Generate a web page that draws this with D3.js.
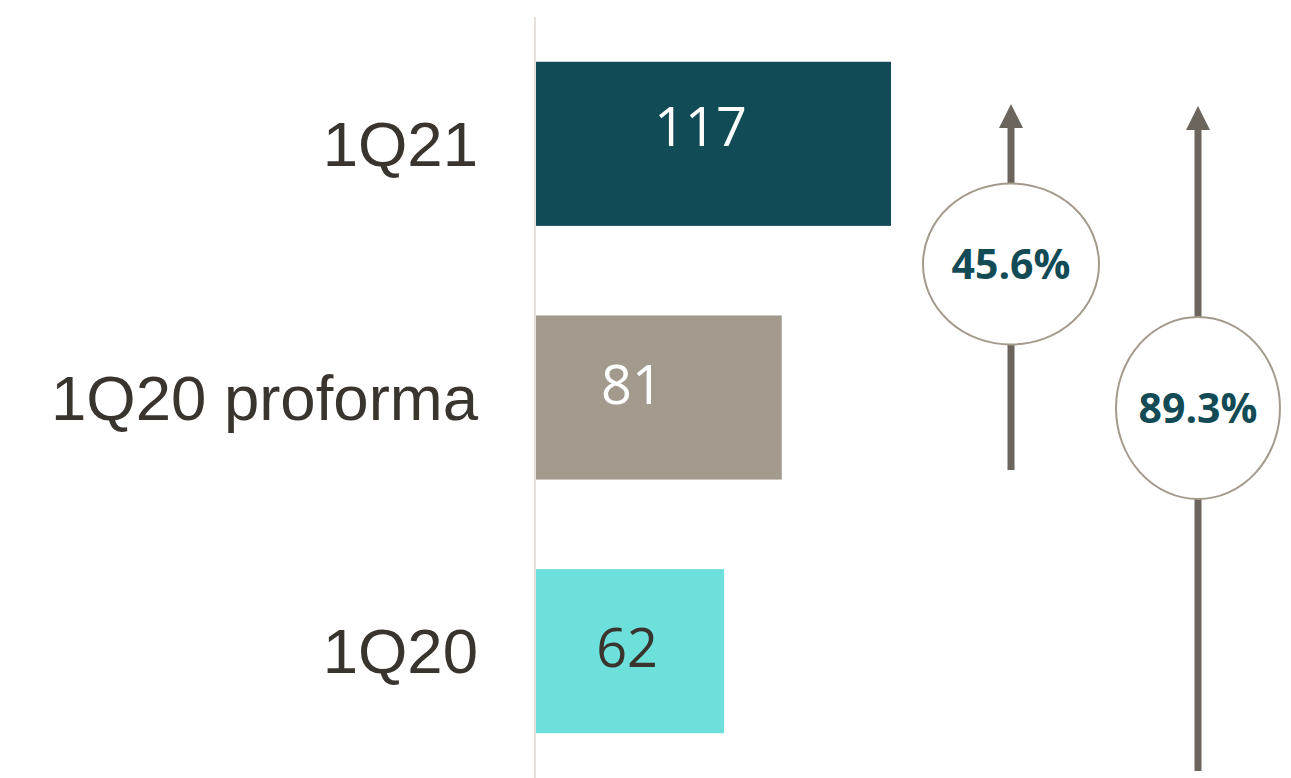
<!DOCTYPE html>
<html>
<head>
<meta charset="utf-8">
<script src="https://cdn.jsdelivr.net/npm/d3@7"></script>
<style>
  body { margin: 0; background: #fff; }
  svg { display: block; }
</style>
</head>
<body>
<div id="chart"></div>
<script>
// chart values
const categories = ["1Q21", "1Q20 proforma", "1Q20"];
const values = [117, 81, 62];
const barColors = ["#114b55", "#a39a8e", "#6ee0dc"];
const labelColors = ["#ffffff", "#ffffff", "#3a342e"];
const growthLabels = ["45.6%", "89.3%"];
const growthFrom = ["1Q20 proforma", "1Q20"];

let width = 1291;
let height = 778;

let svg = d3.select("#chart").append("svg")
  .attr("width", width)
  .attr("height", height);

let x = d3.scaleLinear()
  .domain([0, 117])
  .range([536, 891]);

let y = d3.scaleBand()
  .domain(categories)
  .range([17, 778])
  .paddingInner(0.353)
  .paddingOuter(0.1765);

// small nudges so the value labels sit where the original put them
let labelDx = [-13, -27, -3];
let labelDy = [2, 6, 16];

// baseline line
svg.append("line")
  .attr("x1", x(0) - 1).attr("x2", x(0) - 1)
  .attr("y1", 17).attr("y2", height)
  .attr("stroke", "#e4e1dd")
  .attr("stroke-width", 2);

let rows = categories.map((c, i) => ({ cat: c, value: values[i], i: i }));

svg.selectAll("rect.bar")
  .data(rows)
  .enter()
  .append("rect")
  .classed("bar", true)
  .attr("x", x(0))
  .attr("y", d => y(d.cat))
  .attr("width", d => x(d.value) - x(0))
  .attr("height", y.bandwidth())
  .attr("fill", d => barColors[d.i]);

svg.selectAll("text.cat-label")
  .data(rows)
  .enter()
  .append("text")
  .classed("cat-label", true)
  .attr("x", 478)
  .attr("y", d => y(d.cat) + y.bandwidth() / 2)
  .attr("dy", "0.35em")
  .attr("text-anchor", "end")
  .attr("font-family", "Liberation Sans, Arial, sans-serif")
  .attr("font-size", 63.5)
  .attr("fill", "#3a342e")
  .text(d => d.cat);

svg.selectAll("text.value-label")
  .data(rows)
  .enter()
  .append("text")
  .classed("value-label", true)
  .attr("x", d => (x(0) + x(d.value)) / 2 + labelDx[d.i])
  .attr("y", d => y(d.cat) + y.bandwidth() / 2 + labelDy[d.i])
  .attr("text-anchor", "middle")
  .attr("font-family", "Open Sans, sans-serif")
  .attr("font-size", 54)
  .attr("fill", d => labelColors[d.i])
  .text(d => d.value);

// growth arrows
let arrowLayout = [
  { x: 1011, tip: 104, bottom: 470, cy: 264, rx: 88, ry: 80.5 },
  { x: 1198, tip: 106, bottom: 771, cy: 408, rx: 82, ry: 91 }
];

let growth = growthLabels.map((g, i) => Object.assign({ label: g, from: growthFrom[i] }, arrowLayout[i]));

let arrow = svg.selectAll("g.growth")
  .data(growth)
  .enter()
  .append("g")
  .classed("growth", true);

arrow.append("line")
  .attr("x1", d => d.x).attr("x2", d => d.x)
  .attr("y1", d => d.bottom)
  .attr("y2", d => d.tip + 20)
  .attr("stroke", "#6b655e")
  .attr("stroke-width", 7);

arrow.append("path")
  .attr("d", d => `M${d.x},${d.tip} L${d.x + 12},${d.tip + 24} L${d.x - 12},${d.tip + 24} Z`)
  .attr("fill", "#6b655e");

arrow.append("ellipse")
  .attr("cx", d => d.x)
  .attr("cy", d => d.cy)
  .attr("rx", d => d.rx)
  .attr("ry", d => d.ry)
  .attr("fill", "#ffffff")
  .attr("stroke", "#a39a8e")
  .attr("stroke-width", 2);

arrow.append("text")
  .attr("x", d => d.x)
  .attr("y", d => d.cy)
  .attr("dy", "0.36em")
  .attr("text-anchor", "middle")
  .attr("font-family", "Open Sans, sans-serif")
  .attr("font-weight", 700)
  .attr("font-size", 41)
  .attr("fill", "#124b55")
  .text(d => d.label);
</script>
</body>
</html>
